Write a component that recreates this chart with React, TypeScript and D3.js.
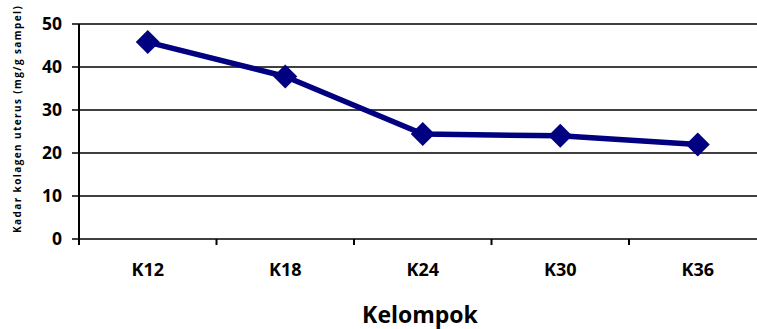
import React from "react";
import * as d3 from "d3";

const categories = ["K12", "K18", "K24", "K30", "K36"];
const values = [45.8, 37.8, 24.4, 24.0, 22.0];
const yTicks = [0, 10, 20, 30, 40, 50];
const yLabel = "Kadar kolagen uterus (mg/g sampel)";
const xLabel = "Kelompok";

export default function App() {
  const W = 757, H = 329;
  const left = 79, right = 766.5, top = 24, bottom = 239;
  const x = d3.scaleBand<string>().domain(categories).range([left, right]).padding(0);
  const y = d3.scaleLinear().domain([0, 50]).range([bottom, top]);
  const line = d3.line<number>().x((_, i) => x(categories[i])! + x.bandwidth() / 2).y((d) => y(d));
  const font = "'Open Sans', sans-serif";
  const ds = 12;
  const tickXs = d3.range(categories.length + 1).map((i) => left + i * x.step());
  return (
    <svg width={W} height={H} style={{ position: "absolute", left: 0, top: 0, background: "#fff" }}>
      <rect width={W} height={H} fill="#fff" />
      {yTicks.map((t) => (
        <g key={t}>
          <line x1={72} x2={right} y1={y(t)} y2={y(t)} stroke="#000" strokeWidth={1.5} />
          <text x={62} y={y(t)} dy="0.35em" textAnchor="end" fontFamily={font} fontWeight={700} fontSize={17.5}>{t}</text>
        </g>
      ))}
      <line x1={left} x2={left} y1={top} y2={bottom + 6} stroke="#000" strokeWidth={2} />
      {tickXs.map((tx, i) => (
        <line key={i} x1={tx} x2={tx} y1={bottom} y2={bottom + 6} stroke="#000" strokeWidth={2} />
      ))}
      {categories.map((c) => (
        <text key={c} x={x(c)! + x.bandwidth() / 2} y={276} textAnchor="middle" fontFamily={font} fontWeight={700} fontSize={18}>{c}</text>
      ))}
      <path d={line(values)!} fill="none" stroke="#000080" strokeWidth={5.5} strokeLinejoin="round" />
      {values.map((v, i) => {
        const cx = x(categories[i])! + x.bandwidth() / 2, cy = y(v);
        return <path key={i} d={`M${cx},${cy - ds}L${cx + ds},${cy}L${cx},${cy + ds}L${cx - ds},${cy}Z`} fill="#000080" />;
      })}
      <text transform={`translate(17,233) rotate(-90)`} textAnchor="start" dy="0.35em" fontFamily={font} fontWeight={700} fontSize={10} letterSpacing={1.4}>{yLabel}</text>
      <text x={420} y={323} textAnchor="middle" fontFamily={font} fontWeight={700} fontSize={23}>{xLabel}</text>
    </svg>
  );
}
